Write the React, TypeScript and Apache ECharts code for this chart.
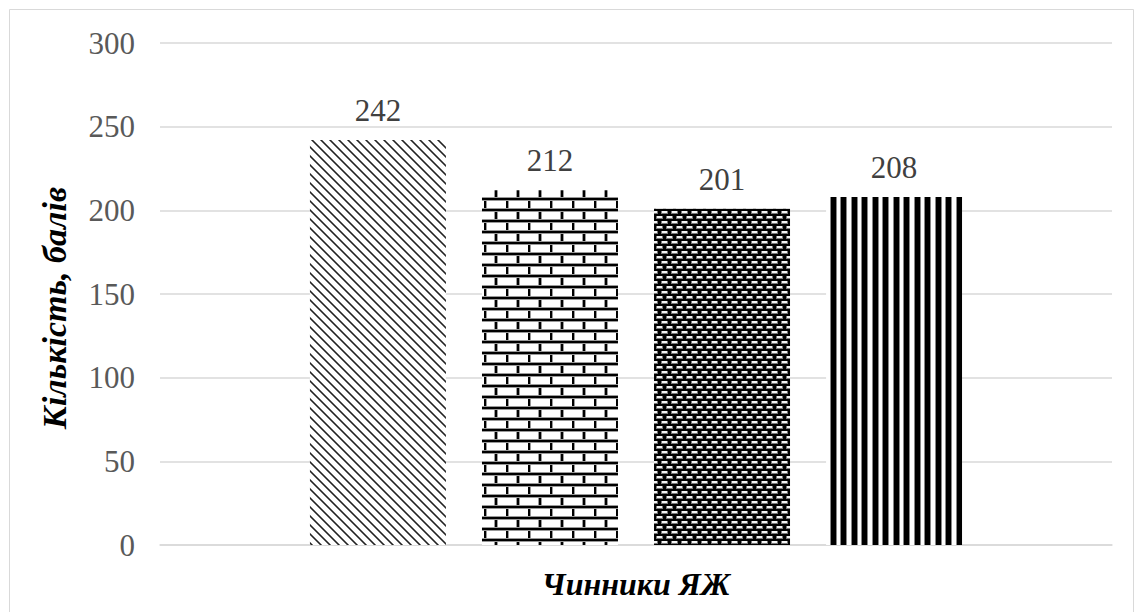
import React, { useEffect, useRef } from "react";
import * as echarts from "echarts";

const categories = ["Чинники ЯЖ"];
const seriesNames = ["Чинник 1", "Чинник 2", "Чинник 3", "Чинник 4"];
const seriesValues = [242, 212, 201, 208];
const yTicks = { min: 0, max: 300, interval: 50 };
const yAxisTitle = "Кількість, балів";
const xAxisTitle = "Чинники ЯЖ";

function makeTile(w: number, h: number, draw: (ctx: CanvasRenderingContext2D) => void) {
  const c = document.createElement("canvas");
  c.width = w;
  c.height = h;
  const ctx = c.getContext("2d")!;
  draw(ctx);
  return { image: c.toDataURL(), repeat: "repeat", imageWidth: w, imageHeight: h } as any;
}

function diagonalPattern() {
  return makeTile(9, 9, (ctx) => {
    ctx.fillStyle = "#fff";
    ctx.fillRect(0, 0, 9, 9);
    for (let y = 0; y < 9; y++) {
      for (let x = 0; x < 9; x++) {
        const d = (((x - y) % 9) + 9) % 9;
        if (d < 3) {
          ctx.fillStyle = d === 1 ? "#222" : "#777";
          ctx.fillRect(x, y, 1, 1);
        }
      }
    }
  });
}

function brickPattern() {
  const w = 22, h = 22, rh = 11;
  return makeTile(w, h, (ctx) => {
    ctx.fillStyle = "#fff";
    ctx.fillRect(0, 0, w, h);
    const hline = (y: number) => {
      ctx.fillStyle = "#999";
      ctx.fillRect(0, y - 1, w, 4);
      ctx.fillStyle = "#000";
      ctx.fillRect(0, y, w, 2);
    };
    const vline = (x: number, y0: number) => {
      ctx.fillStyle = "#999";
      ctx.fillRect(x - 1, y0, 4, rh);
      ctx.fillStyle = "#000";
      ctx.fillRect(x, y0, 2, rh);
    };
    vline(0, 0);
    vline(11, rh);
    hline(0);
    hline(rh);
    hline(h);
  });
}

function dotPattern() {
  const w = 10, h = 10;
  return makeTile(w, h, (ctx) => {
    ctx.fillStyle = "#000";
    ctx.fillRect(0, 0, w, h);
    const dot = (x: number, y: number) => {
      ctx.fillStyle = "#777";
      ctx.fillRect(x - 1, y, 7, 3);
      ctx.fillStyle = "#f2f2f2";
      ctx.fillRect(x, y, 5, 2);
    };
    dot(2, 1);
    dot(7, 6);
    ctx.fillStyle = "#f2f2f2";
    ctx.fillRect(0, 6, 2, 2);
    ctx.fillStyle = "#777";
    ctx.fillRect(0, 8, 3, 1);
    ctx.fillRect(2, 6, 1, 2);
  });
}

function verticalPattern() {
  const w = 21, h = 4;
  return makeTile(w, h, (ctx) => {
    ctx.fillStyle = "#fff";
    ctx.fillRect(0, 0, w, h);
    const stripe = (x: number) => {
      ctx.fillStyle = "#888";
      ctx.fillRect(x - 1, 0, 7, h);
      ctx.fillStyle = "#000";
      ctx.fillRect(x, 0, 5, h);
    };
    stripe(1);
    stripe(12);
  });
}

export default function App() {
  const ref = useRef<HTMLDivElement>(null);
  useEffect(() => {
    if (!ref.current) return;
    const chart = echarts.init(ref.current, null, { renderer: "svg" });
    const patterns = [diagonalPattern(), brickPattern(), dotPattern(), verticalPattern()];
    const font = "'Liberation Serif', 'Times New Roman', serif";
    chart.setOption({
      animation: false,
      backgroundColor: "#fff",
      grid: { left: 160, right: 31, top: 43, bottom: 67, outerBoundsMode: "none", containLabel: false },
      graphic: [
        {
          type: "rect",
          shape: { x: 9.5, y: 9.5, width: 1124, height: 610 },
          style: { fill: "none", stroke: "#d9d9d9", lineWidth: 1 },
          silent: true,
        },
      ],
      xAxis: {
        type: "category",
        data: categories,
        axisLine: { show: true, lineStyle: { color: "#d9d9d9", width: 1.5 } },
        axisTick: { show: false },
        axisLabel: { show: false },
        name: xAxisTitle,
        nameLocation: "middle",
        nameGap: 23,
        nameTextStyle: {
          fontFamily: font,
          fontSize: 32,
          fontWeight: "bold",
          fontStyle: "italic",
          color: "#000",
        },
      },
      yAxis: {
        type: "value",
        min: yTicks.min,
        max: yTicks.max,
        interval: yTicks.interval,
        axisLine: { show: false },
        axisTick: { show: false },
        splitLine: { lineStyle: { color: "#d9d9d9", width: 1.5 } },
        axisLabel: { fontFamily: font, fontSize: 31, color: "#595959", margin: 25 },
        name: yAxisTitle,
        nameLocation: "middle",
        nameRotate: 90,
        nameGap: 89,
        nameTextStyle: {
          fontFamily: font,
          fontSize: 34,
          fontWeight: "bold",
          fontStyle: "italic",
          color: "#000",
          padding: [0, 28, 0, 0],
        },
      },
      series: seriesNames.map((name, i) => ({
        type: "bar",
        name,
        data: [seriesValues[i]],
        barWidth: 136,
        barGap: "26.5%",
        itemStyle: { color: patterns[i] },
        label: {
          show: true,
          position: "top",
          distance: 14,
          fontFamily: font,
          fontSize: 31,
          color: "#404040",
        },
      })),
    });
    return () => chart.dispose();
  }, []);
  return (
    <div
      ref={ref}
      style={{ position: "absolute", left: 0, top: 0, width: 1143, height: 612 }}
    />
  );
}
